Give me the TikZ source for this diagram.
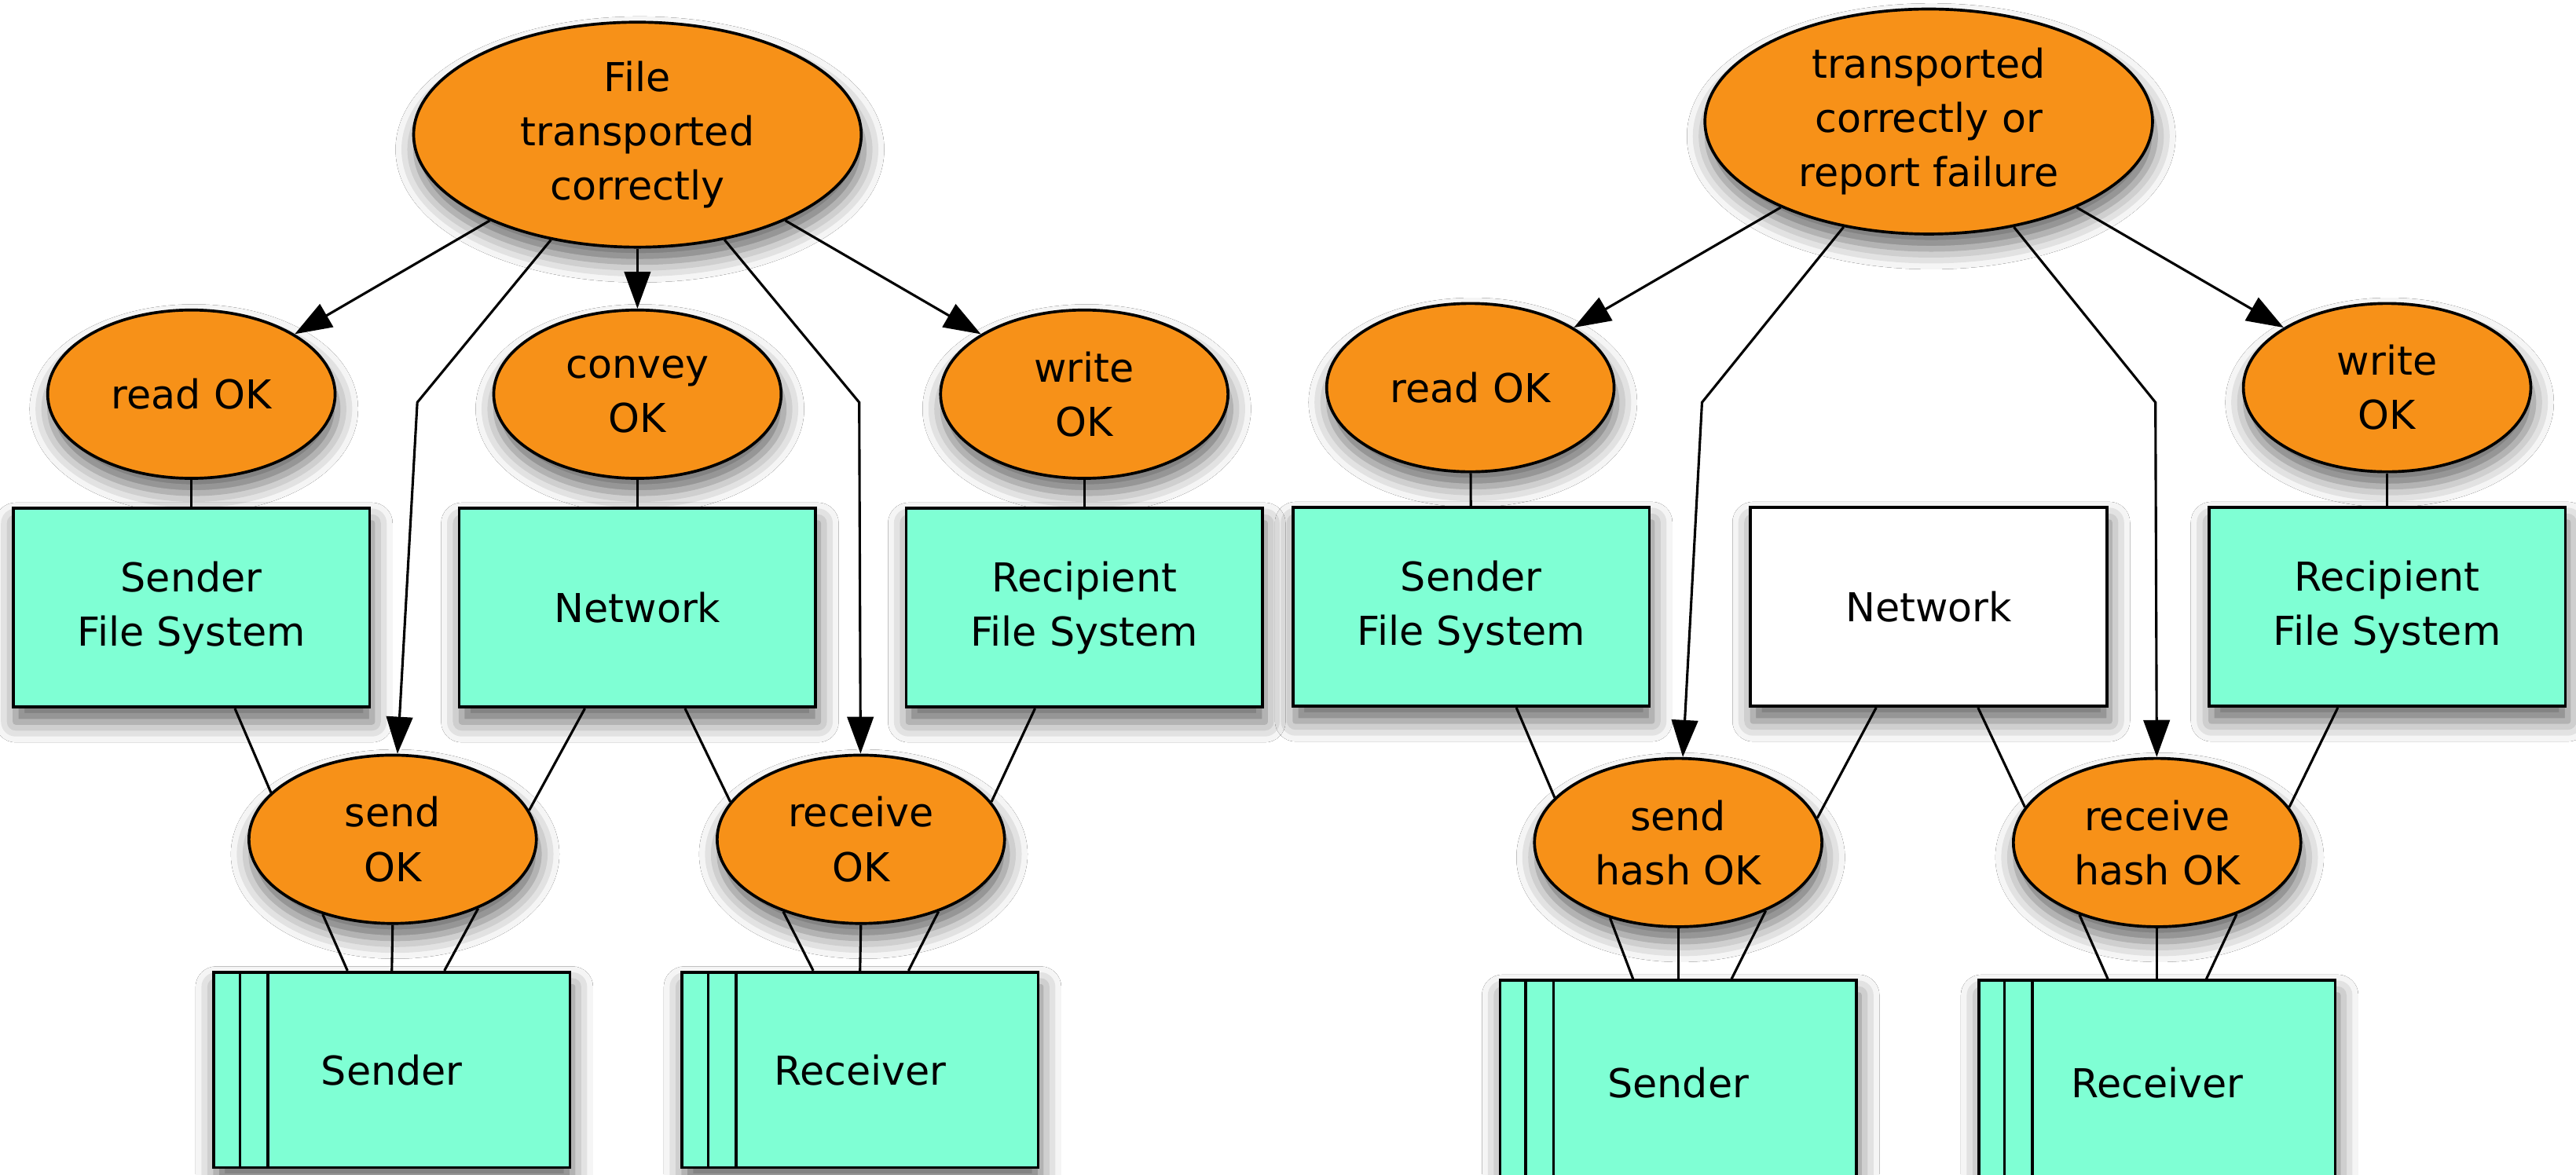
\documentclass[tikz,border=0pt]{standalone}
\usepackage{fontspec}
\setmainfont{DejaVu Sans}
\usepackage{tikz}
\usetikzlibrary{arrows.meta,shapes.geometric,shadows.blur}
\definecolor{okorange}{RGB}{247,145,24}
\definecolor{fsaqua}{RGB}{127,255,212}

\begin{document}
\begin{tikzpicture}[x=0.02cm, y=-0.02cm,
  txt/.style={font=\fontsize{13.8pt}{18.8pt}\selectfont, align=center},
  soft/.style={blur shadow={shadow xshift=0.03cm, shadow yshift=-0.18cm, shadow blur radius=0.25cm, shadow opacity=60}},
  goal/.style={ellipse, draw, line width=1pt, fill=okorange, soft, txt, inner sep=0pt, minimum width=3.5cm, minimum height=2.05cm},
  topgoal/.style={goal, minimum width=5.45cm, minimum height=2.74cm},
  comp/.style={rectangle, draw, line width=1pt, fill=fsaqua, soft, txt, minimum width=4.34cm, minimum height=2.42cm},
  proc/.style={comp, anchor=north, minimum height=2.38cm},
  arr/.style={-{Triangle[length=0.45cm, width=0.32cm]}, line width=0.85pt},
  wire/.style={line width=0.85pt}]
\path[use as bounding box, fill=white] (0,0) rectangle (1568,715);
% Plain transfer: goal and sub-goals
\node[topgoal] (ftc) at (388,82) {File\\transported\\correctly};
\node[goal] (rd) at (116.5,240) {read OK};
\node[goal] (cv) at (388,240) {convey\\OK};
\node[goal] (wr) at (660,240) {write\\OK};
% components
\node[comp] (sfs) at (116.5,370) {Sender\\File System};
\node[comp] (net) at (388,370) {Network};
\node[comp] (rfs) at (660,370) {Recipient\\File System};
\node[goal] (snd) at (239,511) {send\\OK};
\node[goal] (rcv) at (524,511) {receive\\OK};
\node[proc] (sp) at (238.5,591) {Sender};
\node[proc] (rp) at (523.5,591) {Receiver};
% Transfer with hash check
\node[topgoal] (tcr) at (1174,74) {transported\\correctly or\\report failure};
\node[goal] (rd2) at (895,236) {read OK};
\node[goal] (wr2) at (1453,236) {write\\OK};
\node[comp] (sfs2) at (895.5,369.5) {Sender\\File System};
\node[comp, fill=white] (net2) at (1174,369.5) {Network};
\node[comp] (rfs2) at (1453,369.5) {Recipient\\File System};
\node[goal] (shk) at (1021.5,513) {send\\hash OK};
\node[goal] (rhk) at (1313,513) {receive\\hash OK};
\node[proc, minimum height=2.5cm] (sp2) at (1021.5,596) {Sender};
\node[proc, minimum height=2.5cm] (rp2) at (1313,596) {Receiver};
% bend points
\coordinate (bs) at (254,245);
\coordinate (br) at (523,245);
\coordinate (bs2) at (1036,245);
\coordinate (br2) at (1312,245);
% Goal arrows (left)
\draw[arr] (ftc) -- (rd);
\draw[arr] (ftc) -- (cv);
\draw[arr] (ftc) -- (wr);
\draw[arr] (ftc) -- (bs) -- (snd);
\draw[arr] (ftc) -- (br) -- (rcv);
% Goal arrows (right)
\draw[arr] (tcr) -- (rd2);
\draw[arr] (tcr) -- (wr2);
\draw[arr] (tcr) -- (bs2) -- (shk);
\draw[arr] (tcr) -- (br2) -- (rhk);
% Sub-goal to component links (left)
\draw[wire] (rd) -- (sfs);
\draw[wire] (cv) -- (net);
\draw[wire] (wr) -- (rfs);
\draw[wire] ([xshift=0.53cm]sfs.south) -- (snd.159);
\draw[wire] ([xshift=-0.64cm]net.south) -- (snd.12);
\draw[wire] ([xshift=0.58cm]net.south) -- (rcv.164);
\draw[wire] ([xshift=-0.6cm]rfs.south) -- (rcv.16);
\draw[wire] (snd.227) -- ([xshift=-0.54cm]sp.north);
\draw[wire] (snd.270) -- (sp.north);
\draw[wire] (snd.321) -- ([xshift=0.64cm]sp.north);
\draw[wire] (rcv.223) -- ([xshift=-0.57cm]rp.north);
\draw[wire] (rcv.270) -- (rp.north);
\draw[wire] (rcv.317) -- ([xshift=0.59cm]rp.north);
% Sub-goal to component links (right)
\draw[wire] (rd2) -- (sfs2);
\draw[wire] (wr2) -- (rfs2);
\draw[wire] ([xshift=0.55cm]sfs2.south) -- (shk.160);
\draw[wire] ([xshift=-0.64cm]net2.south) -- (shk.10);
\draw[wire] ([xshift=0.6cm]net2.south) -- (rhk.165);
\draw[wire] ([xshift=-0.6cm]rfs2.south) -- (rhk.15);
\draw[wire] (shk.228) -- ([xshift=-0.55cm]sp2.north);
\draw[wire] (shk.270) -- (sp2.north);
\draw[wire] (shk.322) -- ([xshift=0.65cm]sp2.north);
\draw[wire] (rhk.223) -- ([xshift=-0.6cm]rp2.north);
\draw[wire] (rhk.270) -- (rp2.north);
\draw[wire] (rhk.318) -- ([xshift=0.6cm]rp2.north);
% Process stripes
\draw[line width=1pt] ([xshift=0.34cm]sp.north west) -- ([xshift=0.34cm]sp.south west);
\draw[line width=1pt] ([xshift=0.68cm]sp.north west) -- ([xshift=0.68cm]sp.south west);
\draw[line width=1pt] ([xshift=0.34cm]rp.north west) -- ([xshift=0.34cm]rp.south west);
\draw[line width=1pt] ([xshift=0.68cm]rp.north west) -- ([xshift=0.68cm]rp.south west);
\draw[line width=1pt] ([xshift=0.33cm]sp2.north west) -- ([xshift=0.33cm]sp2.south west);
\draw[line width=1pt] ([xshift=0.67cm]sp2.north west) -- ([xshift=0.67cm]sp2.south west);
\draw[line width=1pt] ([xshift=0.33cm]rp2.north west) -- ([xshift=0.33cm]rp2.south west);
\draw[line width=1pt] ([xshift=0.67cm]rp2.north west) -- ([xshift=0.67cm]rp2.south west);
\end{tikzpicture}
\end{document}
